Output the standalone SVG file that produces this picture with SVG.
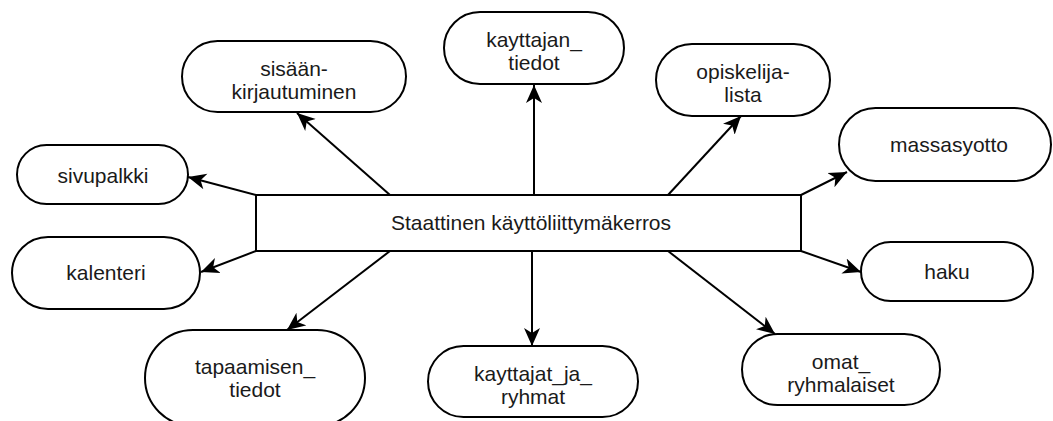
<svg xmlns="http://www.w3.org/2000/svg" width="1053" height="421" viewBox="0 0 1053 421">
<style>
.n{fill:#fff;stroke:#000;stroke-width:2}
.t{font-family:"Liberation Sans",Arial,sans-serif;font-size:21px;fill:#1a1a1a;text-anchor:middle}
.c{stroke:#000;stroke-width:2;fill:none;marker-end:url(#ah)}
</style>
<defs>
<marker id="ah" markerUnits="userSpaceOnUse" markerWidth="20" markerHeight="18" refX="18" refY="9" orient="auto">
<path d="M0,1 L18,9 L0,17 L5,9 Z" fill="#000"/>
</marker>
</defs>
<rect width="1053" height="421" fill="#fff"/>
<g id="connectors">
<line class="c" x1="256" y1="195" x2="188" y2="177"/>
<line class="c" x1="390" y1="195" x2="297" y2="113"/>
<line class="c" x1="534" y1="195" x2="534" y2="85"/>
<line class="c" x1="668" y1="195" x2="741" y2="116"/>
<line class="c" x1="801" y1="195" x2="847" y2="172"/>
<line class="c" x1="256" y1="251" x2="201" y2="272"/>
<line class="c" x1="390" y1="251" x2="287" y2="330"/>
<line class="c" x1="532" y1="251" x2="532" y2="346"/>
<line class="c" x1="668" y1="251" x2="775" y2="334"/>
<line class="c" x1="801" y1="251" x2="861" y2="272"/>
</g>
<g id="center">
<rect class="n" x="256" y="195" width="545" height="56"/>
<text class="t" x="531" y="230">Staattinen käyttöliittymäkerros</text>
</g>
<g id="sivupalkki">
<rect class="n" x="17" y="145" width="171" height="59" rx="29.5"/>
<text class="t" x="103" y="183">sivupalkki</text>
</g>
<g id="sisaan">
<rect class="n" x="182" y="41" width="224" height="71" rx="35.5"/>
<text class="t" x="294" y="76">sisään-</text>
<text class="t" x="294" y="99">kirjautuminen</text>
</g>
<g id="kayttajan_tiedot">
<rect class="n" x="444" y="12" width="180" height="72" rx="36"/>
<text class="t" x="534" y="47">kayttajan_</text>
<text class="t" x="534" y="70">tiedot</text>
</g>
<g id="opiskelijalista">
<rect class="n" x="656" y="44" width="174" height="72" rx="36"/>
<text class="t" x="743" y="79">opiskelija-</text>
<text class="t" x="743" y="102">lista</text>
</g>
<g id="massasyotto">
<rect class="n" x="839" y="108" width="212" height="73" rx="36.5"/>
<text class="t" x="949" y="152">massasyotto</text>
</g>
<g id="kalenteri">
<rect class="n" x="12" y="237" width="188" height="72" rx="36"/>
<text class="t" x="106" y="280">kalenteri</text>
</g>
<g id="tapaamisen_tiedot">
<rect class="n" x="145" y="330" width="220" height="96" rx="48"/>
<text class="t" x="255" y="374">tapaamisen_</text>
<text class="t" x="255" y="397">tiedot</text>
</g>
<g id="kayttajat_ja_ryhmat">
<rect class="n" x="428" y="346" width="210" height="71" rx="35.5"/>
<text class="t" x="533" y="381">kayttajat_ja_</text>
<text class="t" x="533" y="404">ryhmat</text>
</g>
<g id="haku">
<rect class="n" x="861" y="242" width="172" height="59" rx="29.5"/>
<text class="t" x="947" y="279">haku</text>
</g>
<g id="omat_ryhmalaiset">
<rect class="n" x="742" y="334" width="198" height="71" rx="35.5"/>
<text class="t" x="841" y="369">omat_</text>
<text class="t" x="841" y="392">ryhmalaiset</text>
</g>
</svg>
